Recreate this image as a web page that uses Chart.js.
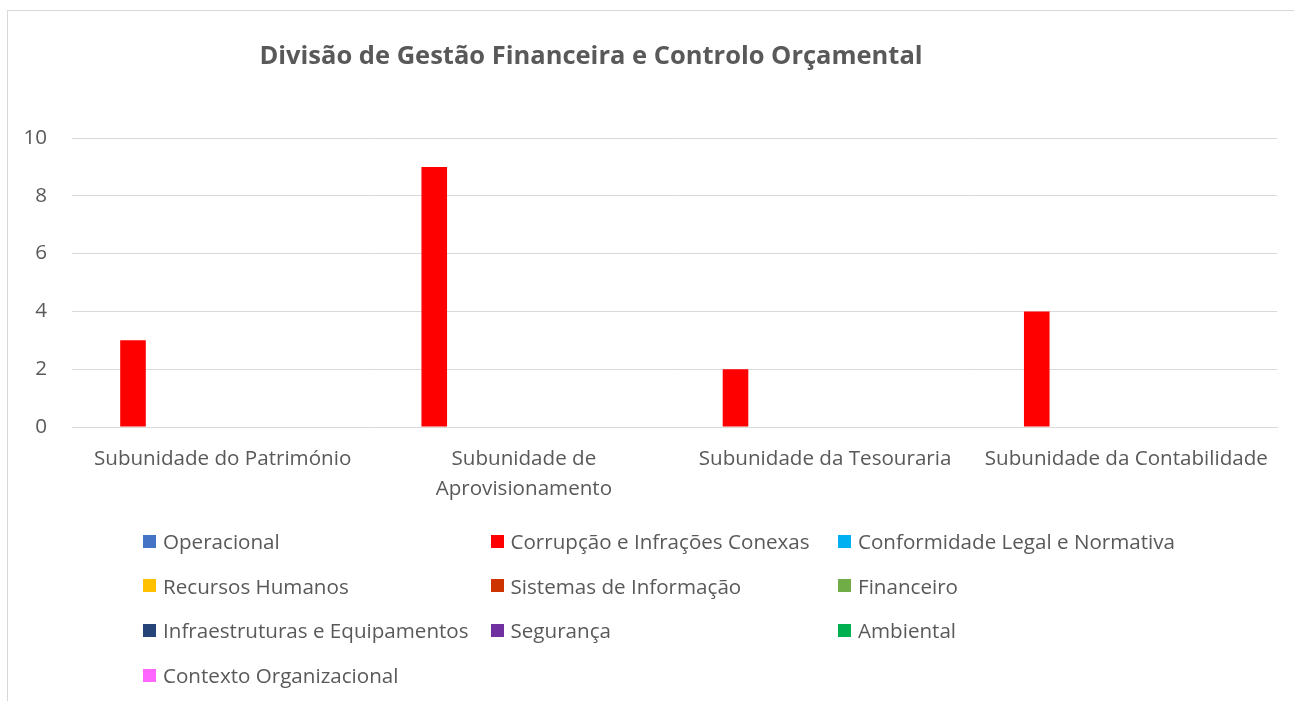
<!DOCTYPE html>
<html lang="pt">
<head>
<meta charset="UTF-8">
<title>Divisão de Gestão Financeira e Controlo Orçamental</title>
<script src="https://cdn.jsdelivr.net/npm/chart.js"></script>
<style>
    body { margin: 0; background: #fff; overflow: hidden; font-family: "Open Sans", sans-serif; }
    #wrap { position: relative; width: 1294px; height: 701px; }
    #frame { position: absolute; left: 7px; top: 10px; width: 1300px; height: 720px; border: 1px solid #d9d9d9; box-sizing: border-box; }
    #chart { position: absolute; left: 0; top: 0; }
    #legend { position: absolute; left: 143px; top: 528px; }
    .item { position: absolute; display: flex; align-items: center; white-space: nowrap; font-size: 20.6px; color: #595959; height: 26px; }
    .sw { width: 13px; height: 13px; margin-right: 7px; }
</style>
</head>
<body>
<div id="wrap">
    <div id="frame"></div>
    <canvas id="chart" width="1294" height="701"></canvas>
    <div id="legend"></div>
</div>
<script>
const chartTitle = 'Divisão de Gestão Financeira e Controlo Orçamental';
const categories = [
    'Subunidade do Património',
    ['Subunidade de', 'Aprovisionamento'],
    'Subunidade da Tesouraria',
    'Subunidade da Contabilidade'
];
const seriesNames = [
    'Operacional', 'Corrupção e Infrações Conexas', 'Conformidade Legal e Normativa',
    'Recursos Humanos', 'Sistemas de Informação', 'Financeiro',
    'Infraestruturas e Equipamentos', 'Segurança', 'Ambiental',
    'Contexto Organizacional'
];
const seriesColors = [
    '#4472C4', '#FF0000', '#00B0F0',
    '#FFC000', '#CC3300', '#70AD47',
    '#264478', '#7030A0', '#00B050',
    '#FF66FF'
];
const operacional = [0, 0, 0, 0];
const corrupcao = [3, 9, 2, 4];
const conformidade = [0, 0, 0, 0];
const recursosHumanos = [0, 0, 0, 0];
const sistemasInformacao = [0, 0, 0, 0];
const financeiro = [0, 0, 0, 0];
const infraestruturas = [0, 0, 0, 0];
const seguranca = [0, 0, 0, 0];
const ambiental = [0, 0, 0, 0];
const contexto = [0, 0, 0, 0];
const seriesValues = [operacional, corrupcao, conformidade, recursosHumanos, sistemasInformacao,
    financeiro, infraestruturas, seguranca, ambiental, contexto];
const yTicks = [0, 2, 4, 6, 8, 10];

const textColor = '#595959';
const gridColor = '#d9d9d9';

// title drawn by hand so it can sit left of centre like the original
const titlePlugin = {
    id: 'titleText',
    afterDraw(chart) {
        const ctx = chart.ctx;
        ctx.save();
        ctx.font = 'bold 25.5px "Open Sans"';
        ctx.fillStyle = textColor;
        ctx.textAlign = 'center';
        ctx.textBaseline = 'middle';
        ctx.fillText(chartTitle, 591, 57);
        ctx.restore();
    }
};

new Chart(document.getElementById('chart'), {
    type: 'bar',
    data: {
        labels: categories,
        datasets: seriesNames.map((name, i) => ({
            label: name,
            data: seriesValues[i],
            backgroundColor: seriesColors[i],
            borderWidth: 0,
            categoryPercentage: 0.85,
            barPercentage: 1
        }))
    },
    options: {
        responsive: false,
        animation: false,
        layout: { padding: { left: 8, right: 17, top: 138, bottom: 174 } },
        plugins: {
            legend: { display: false },
            title: { display: false },
            tooltip: { enabled: false }
        },
        scales: {
            x: {
                grid: { display: false },
                border: { color: gridColor, width: 1 },
                afterFit(scale) { scale.height = 100; },
                ticks: {
                    color: textColor,
                    font: { family: 'Open Sans', size: 20.6, lineHeight: 1.45 },
                    padding: 9,
                    maxRotation: 0,
                    autoSkip: false
                }
            },
            y: {
                min: 0,
                max: 10,
                afterFit(scale) { scale.width = 64; },
                afterBuildTicks(scale) { scale.ticks = yTicks.map(v => ({ value: v })); },
                grid: { color: gridColor, lineWidth: 1, drawTicks: false },
                border: { display: false },
                ticks: {
                    color: textColor,
                    font: { family: 'Open Sans', size: 20.6 },
                    padding: 25
                }
            }
        }
    },
    plugins: [titlePlugin]
});

// legend in three columns, like the original
const legend = document.getElementById('legend');
seriesNames.forEach((name, i) => {
    const item = document.createElement('div');
    item.className = 'item';
    item.style.left = (i % 3) * 347.5 + 'px';
    item.style.top = Math.floor(i / 3) * 44.7 + 'px';
    item.innerHTML = '<span class="sw" style="background:' + seriesColors[i] + '"></span>' + name;
    legend.appendChild(item);
});
</script>
</body>
</html>
